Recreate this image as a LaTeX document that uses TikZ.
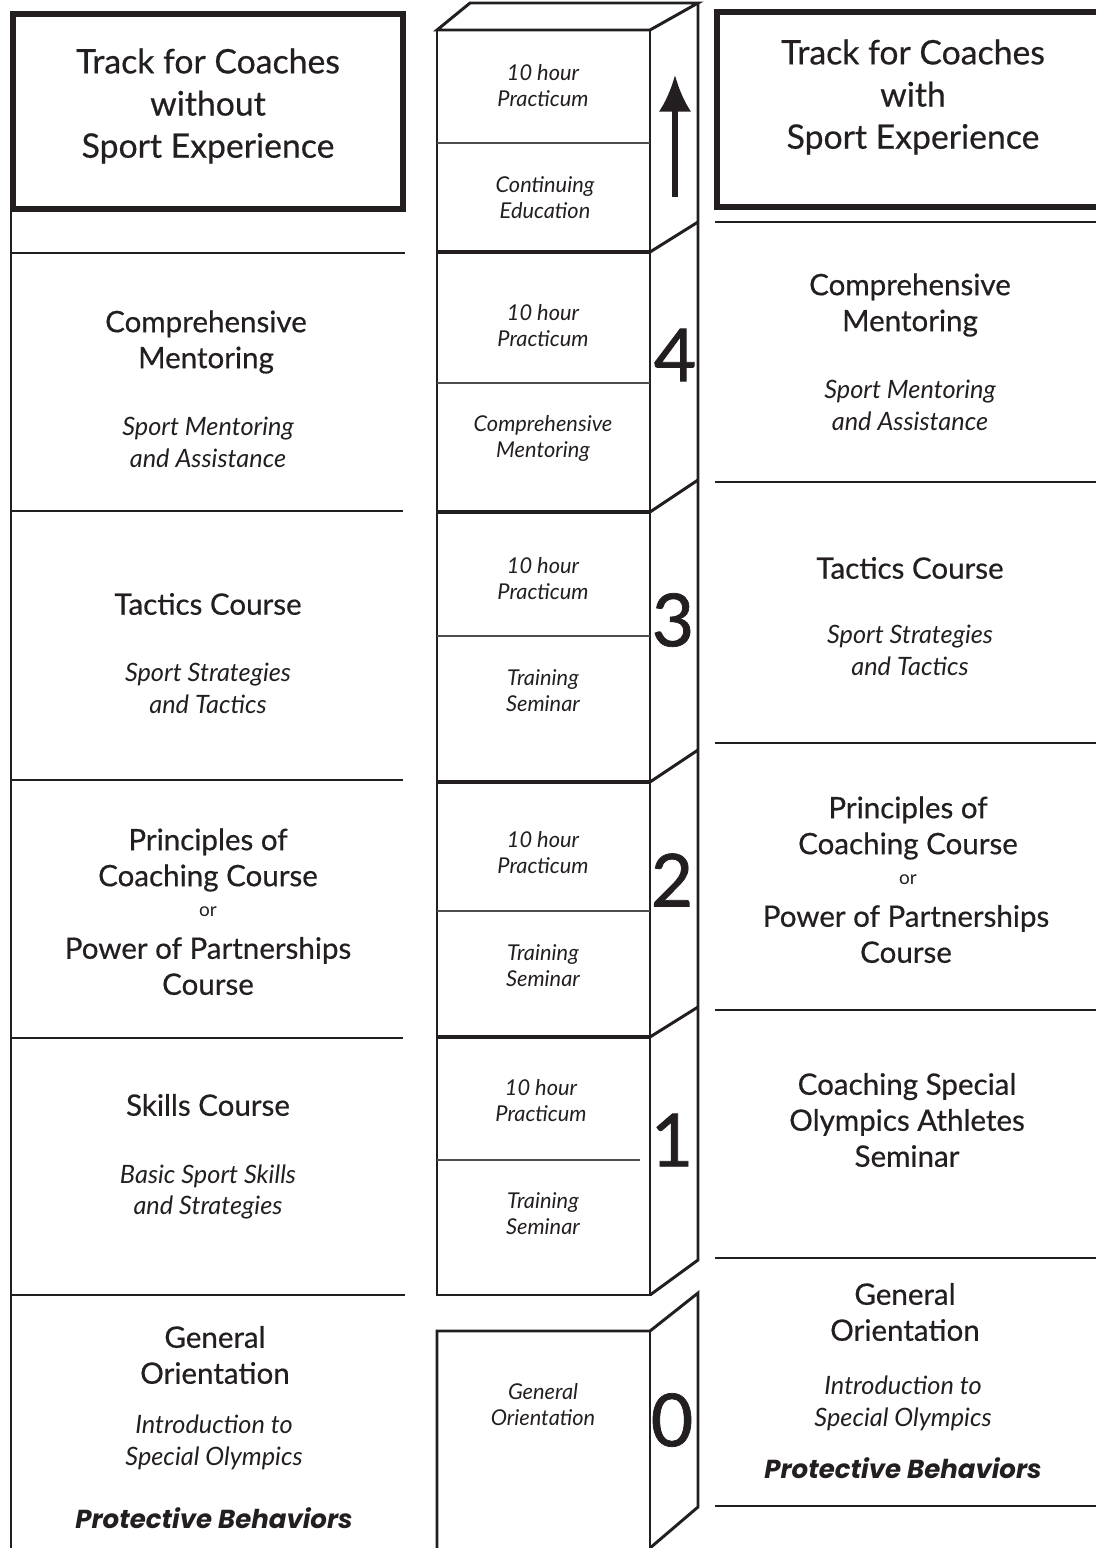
\documentclass[tikz,border=0pt]{standalone}
\usepackage{fontspec}
\setmainfont{Lato}
\newfontfamily\heavyfont{Poppins}
\usetikzlibrary{arrows.meta}
\definecolor{inkgray}{RGB}{35,31,32}
\tikzset{
  titleframe/.style={draw=inkgray,line width=3.6pt},
  rulebar/.style={draw=inkgray,line width=2.1pt},
  sidebar/.style={draw=inkgray,line width=2.1pt},
  cubeedge/.style={draw=inkgray,line width=2.1pt,line join=miter},
  levelbar/.style={draw=inkgray,line width=3pt},
  halfbar/.style={draw=inkgray!80,line width=0.8pt},
  titletext/.style={align=center,text=inkgray,font=\fontsize{24}{30}\selectfont\addfontfeature{FakeBold=0.5}},
  headtext/.style={align=center,text=inkgray,font=\fontsize{21}{25.6}\selectfont\addfontfeature{FakeBold=0.5}},
  subtext/.style={align=center,text=inkgray,font=\fontsize{18}{22.6}\selectfont\itshape},
  ortext/.style={align=center,text=inkgray,font=\fontsize{13.5}{16}\selectfont},
  cubetext/.style={align=center,text=inkgray,font=\fontsize{15.5}{18.5}\selectfont\itshape},
  digittext/.style={text=inkgray,font=\fontsize{52}{52}\selectfont\addfontfeature{FakeBold=1}},
  warntext/.style={text=inkgray,font=\heavyfont\fontsize{18.5}{20}\selectfont\bfseries\itshape}
}
\begin{document}
\begin{tikzpicture}[x=0.025cm,y=-0.025cm]
\useasboundingbox (0,0) rectangle (1096,1548);
\draw[sidebar] (11,14) -- (11,1548);
\draw[titleframe] (13,14) rectangle (403,209);
\draw[rulebar] (11,253) -- (405,253);
\draw[rulebar] (11,511) -- (403,511);
\draw[rulebar] (11,780) -- (403,780);
\draw[rulebar] (11,1038) -- (403,1038);
\draw[rulebar] (11,1295) -- (405,1295);
\draw[titleframe] (717,12) rectangle (1106,207);
\draw[rulebar] (715,222) -- (1096,222);
\draw[rulebar] (715,482) -- (1096,482);
\draw[rulebar] (715,743) -- (1096,743);
\draw[rulebar] (715,1010) -- (1096,1010);
\draw[rulebar] (715,1258) -- (1096,1258);
\draw[rulebar] (715,1506) -- (1096,1506);
\draw[cubeedge] (437,30) -- (470,3) -- (698,3) -- (650,30) -- cycle;
\draw[cubeedge] (650,30) -- (437,30) -- (437,1295) -- (650,1295) -- cycle;
\draw[cubeedge] (698,3) -- (698,1260) -- (650,1295);
\draw[cubeedge] (650,252) -- (698,222);
\draw[cubeedge] (650,512) -- (698,480);
\draw[cubeedge] (650,782) -- (698,750);
\draw[cubeedge] (650,1037) -- (698,1007);
\draw[levelbar] (437,252) -- (650,252);
\draw[levelbar] (437,512) -- (650,512);
\draw[levelbar] (437,782) -- (650,782);
\draw[levelbar] (437,1037) -- (650,1037);
\draw[halfbar] (437,143) -- (650,143);
\draw[halfbar] (437,383) -- (650,383);
\draw[halfbar] (437,636) -- (650,636);
\draw[halfbar] (437,911) -- (650,911);
\draw[halfbar] (437,1160) -- (640,1160);
\draw[cubeedge] (437,1560) -- (437,1331) -- (650,1331) -- (698,1293) -- (698,1507) -- (650,1548);
\draw[cubeedge] (650,1331) -- (650,1560);
\coordinate (arrowfoot) at (675,197);
\coordinate (arrowtip) at (675,75);
\draw[inkgray,line width=3.6pt,-{Latex[length=26pt,width=23pt]}] (arrowfoot) -- (arrowtip);
\node[titletext] (titleleft) at (208,106) {Track for Coaches\\without\\Sport Experience};
\node[headtext] (mentorleft) at (206,342) {Comprehensive\\Mentoring};
\node[subtext] (mentorsubleft) at (208,442) {Sport Mentoring\\and Assistance};
\node[headtext] (tacticsleft) at (208,604) {Tactics Course};
\node[subtext] (tacticssubleft) at (208,688) {Sport Strategies\\and Tactics};
\node[headtext] (principlesleft) at (208,860) {Principles of\\Coaching Course};
\node[ortext] (orleft) at (208,912) {or};
\node[headtext] (partnersleft) at (208,966) {Power of Partnerships\\Course};
\node[headtext] (skillsleft) at (208,1105) {Skills Course};
\node[subtext] (skillssubleft) at (208,1192) {Basic Sport Skills\\and Strategies};
\node[headtext] (orientleft) at (215,1355) {General\\Orientation};
\node[subtext] (introleft) at (214,1442) {Introduction to\\Special Olympics};
\node[warntext] (protectleft) at (214,1518) {Protective Behaviors};
\node[cubetext] (practicumtop) at (543,86) {10 hour\\Practicum};
\node[cubetext] (continuing) at (545,198) {Continuing\\Education};
\node[cubetext] (practicumfour) at (543,326) {10 hour\\Practicum};
\node[cubetext] (mentorcube) at (543,438) {Comprehensive\\Mentoring};
\node[cubetext] (practicumthree) at (543,579) {10 hour\\Practicum};
\node[cubetext] (seminarthree) at (543,691) {Training\\Seminar};
\node[cubetext] (practicumtwo) at (543,853) {10 hour\\Practicum};
\node[cubetext] (seminartwo) at (543,966) {Training\\Seminar};
\node[cubetext] (practicumone) at (541,1101) {10 hour\\Practicum};
\node[cubetext] (seminarone) at (543,1214) {Training\\Seminar};
\node[cubetext] (orientcube) at (543,1405) {General\\Orientation};
\node[digittext] (levelfour) at (675,355) {4};
\node[digittext] (levelthree) at (673,620) {3};
\node[digittext] (leveltwo) at (672,880) {2};
\node[digittext] (levelone) at (672,1140) {1};
\node[digittext] (levelzero) at (672,1420) {0};
\node[titletext] (titleright) at (913,97) {Track for Coaches\\with\\Sport Experience};
\node[headtext] (mentorright) at (910,305) {Comprehensive\\Mentoring};
\node[subtext] (mentorsubright) at (910,405) {Sport Mentoring\\and Assistance};
\node[headtext] (tacticsright) at (910,568) {Tactics Course};
\node[subtext] (tacticssubright) at (910,650) {Sport Strategies\\and Tactics};
\node[headtext] (principlesright) at (908,828) {Principles of\\Coaching Course};
\node[ortext] (orright) at (908,880) {or};
\node[headtext] (partnersright) at (906,934) {Power of Partnerships\\Course};
\node[headtext] (seminarright) at (907,1120) {Coaching Special\\Olympics Athletes\\Seminar};
\node[headtext] (orientright) at (905,1312) {General\\Orientation};
\node[subtext] (introright) at (903,1403) {Introduction to\\Special Olympics};
\node[warntext] (protectright) at (903,1468) {Protective Behaviors};
\end{tikzpicture}
\end{document}
